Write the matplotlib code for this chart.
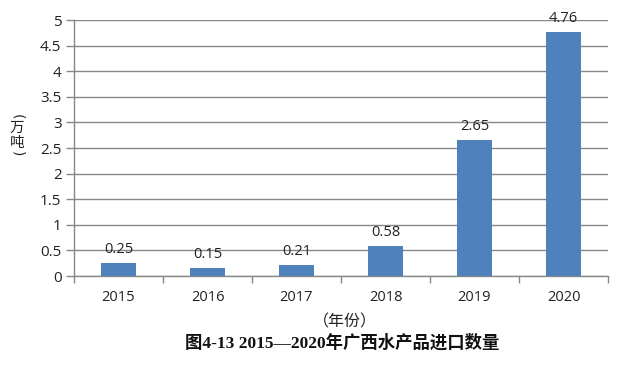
import matplotlib
matplotlib.use("Agg")
import matplotlib.pyplot as plt
import numpy as np

years = ["2015", "2016", "2017", "2018", "2019", "2020"]
values = [0.25, 0.15, 0.21, 0.58, 2.65, 4.76]
yticks = [0, 0.5, 1, 1.5, 2, 2.5, 3, 3.5, 4, 4.5, 5]
ytick_labels = ["0", "0.5", "1", "1.5", "2", "2.5", "3", "3.5", "4", "4.5", "5"]

plt.rcParams['font.family'] = ['Open Sans', 'Noto Sans CJK SC', 'DejaVu Sans']

fig = plt.figure(figsize=(6.3, 3.7), dpi=100)
ax = fig.add_axes([74/630, 1-276/370, (608-74)/630, (276-20)/370])

x = np.arange(len(years))
bar_color = "#4f81bd"
ax.bar(x, values, width=0.4, color=bar_color, zorder=3)
for xi, v in zip(x, values):
    ax.text(xi, v + 0.12, f"{v:.2f}", ha="center", va="bottom", fontsize=10.5, color="#222222", zorder=4)

ax.set_xlim(-0.5, len(years) - 0.5)
ax.set_ylim(0, 5)
ax.set_yticks(yticks)
ax.set_yticklabels(ytick_labels, fontsize=11, color="#222222")
ax.set_xticks(x)
ax.set_xticklabels(years, fontsize=10.5, color="#222222")
ax.set_xticks(np.arange(-0.5, len(years)), minor=True)
ax.tick_params(axis="x", which="major", length=0, pad=10)
ax.tick_params(axis="x", which="minor", length=5, color="#888888", width=1)
ax.tick_params(axis="y", length=6, color="#888888", width=1, pad=3)

ax.grid(axis="y", color="#888888", linewidth=1, zorder=0)
for s in ["top", "right"]:
    ax.spines[s].set_visible(False)
for s in ["left", "bottom"]:
    ax.spines[s].set_color("#888888")
    ax.spines[s].set_linewidth(1)

cjk = ['Noto Sans CJK SC']
fig.text(17/630, 1-117/370, "(", ha="center", va="center", fontsize=10, family=['DejaVu Sans'],
         rotation=-90, color="#222222")
fig.text(17/630, 1-128/370, "万", ha="center", va="center", fontsize=10.5, family=cjk, color="#222222")
fig.text(17/630, 1-143/370, "吨", ha="center", va="center", fontsize=10.5, family=cjk, color="#222222")
fig.text(17/630, 1-154/370, ")", ha="center", va="center", fontsize=10, family=['DejaVu Sans'],
         rotation=-90, color="#222222")
fig.text(345/630, 1-322/370, "（年份）", ha="center", va="center", fontsize=11.5,
         family=cjk, color="#222222")
fig.text(342/630, 1-343/370, "图4-13 2015—2020年广西水产品进口数量", ha="center", va="center",
         fontsize=12.5, fontweight="bold", family=['Liberation Serif', 'Noto Sans CJK SC'], color="#111111")

fig.savefig("out.png", dpi=100)
